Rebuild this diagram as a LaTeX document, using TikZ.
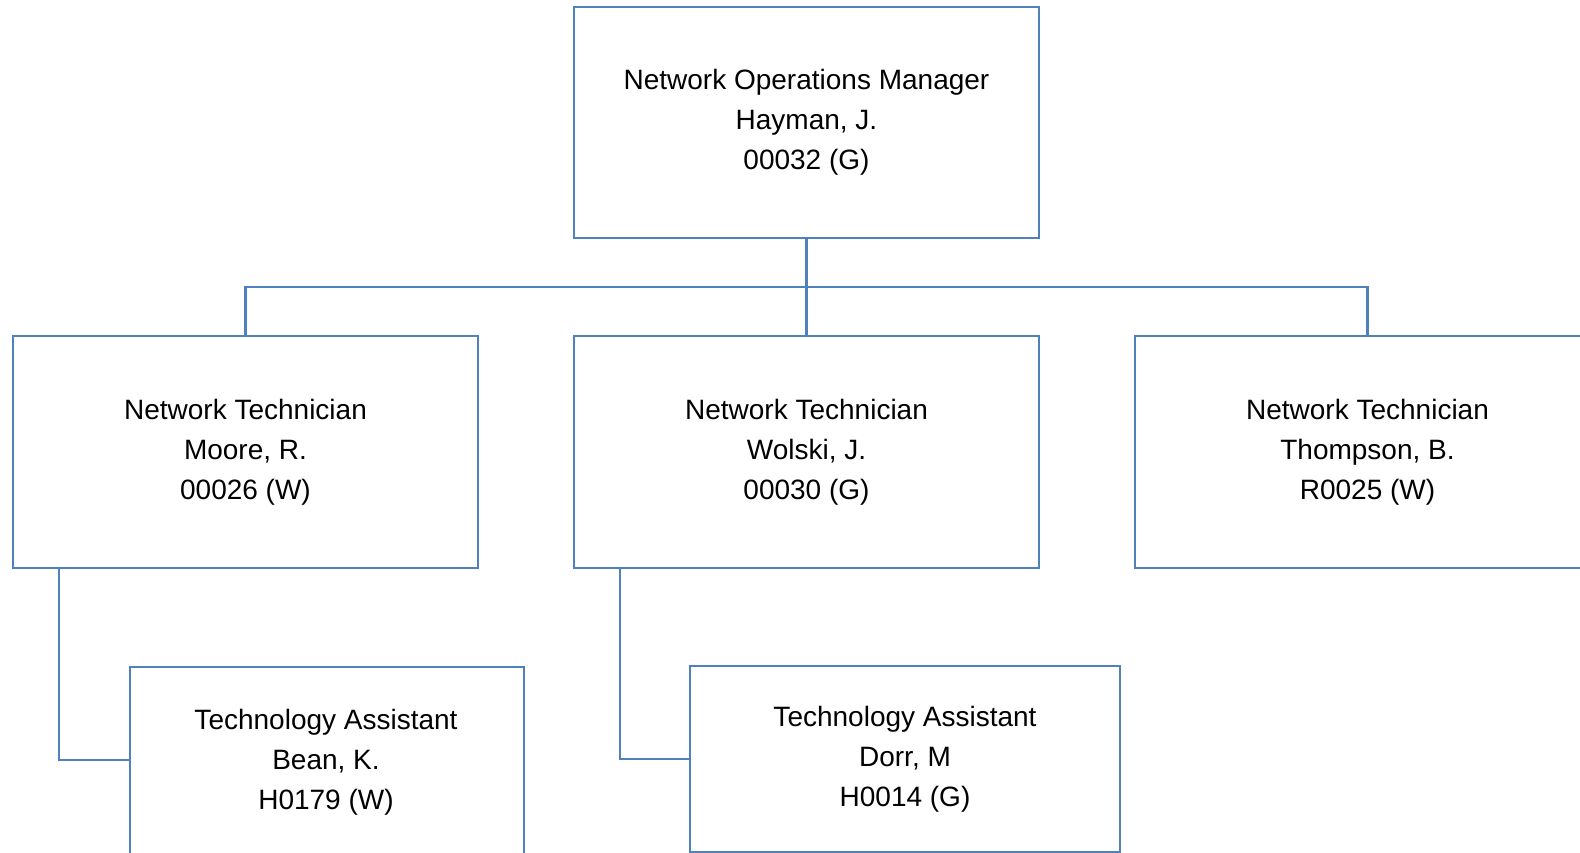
\documentclass[tikz,border=0pt]{standalone}
\usepackage{fontspec}
\setmainfont{Liberation Sans}
\definecolor{boxblue}{HTML}{4F81BD}
\begin{document}
\begin{tikzpicture}[x=1pt,y=-1pt,
  box/.style={draw=boxblue, line width=2.3pt, rectangle, inner sep=0pt, align=center,
    font=\fontsize{28}{40}\selectfont},
  wire/.style={draw=boxblue, line width=2.3pt},
  lbl/.style={inner sep=0pt, align=center, font=\fontsize{28}{40}\selectfont}]
\clip (0,0) rectangle (1580,853);
\useasboundingbox (0,0) rectangle (1580,853);
\fill[white] (0,0) rectangle (1580,853);
\node[box, minimum width=465pt, minimum height=231pt] (top) at (806.5,122.5)
  {Network Operations Manager\\Hayman, J.\\00032 (G)};
\node[box, minimum width=465pt, minimum height=232pt] (moore) at (245.5,452)
  {Network Technician\\Moore, R.\\00026 (W)};
\node[box, minimum width=465pt, minimum height=232pt] (wolski) at (806.5,452)
  {Network Technician\\Wolski, J.\\00030 (G)};
\node[box, minimum width=465pt, minimum height=232pt] (thompson) at (1367.5,452)
  {Network Technician\\Thompson, B.\\R0025 (W)};
\node[box, minimum width=394pt, minimum height=220pt, anchor=north west] (bean) at (129,666) {};
\node[lbl] (beantext) at (326,762) {Technology Assistant\\Bean, K.\\H0179 (W)};
\node[box, minimum width=430pt, minimum height=186pt] (dorr) at (905,759)
  {Technology Assistant\\Dorr, M\\H0014 (G)};
\coordinate (bus) at (806.5,287);
\draw[wire] (top.south) -- (wolski.north);
\draw[wire] (moore.north) |- (bus) -| (thompson.north);
\draw[wire] ([xshift=47pt]moore.south west) |- ([yshift=-94pt]bean.north west);
\draw[wire] ([xshift=47pt]wolski.south west) |- (dorr.west);
\end{tikzpicture}
\end{document}
